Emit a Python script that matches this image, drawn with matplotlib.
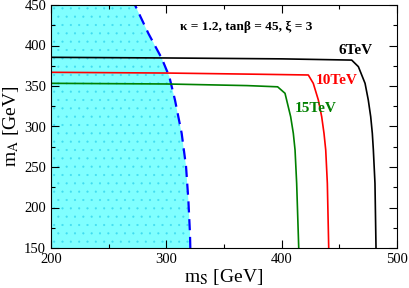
import matplotlib
matplotlib.use("Agg")
import matplotlib.pyplot as plt
from matplotlib.ticker import MultipleLocator

# excluded region boundary (blue dashed)
bound_ms = [320.8, 320.5, 319.1, 317.1, 313.3, 307.5, 302.6, 296.0, 284.4, 272.8]
bound_ma = [150, 168.2, 209.3, 250.4, 291.6, 332.7, 361.5, 384.2, 415, 450]

# contours for different energies
ms_6 = [200, 300, 400, 460.7, 466.5, 472.3, 475.1, 477.2, 478.6, 479.5, 480.9, 481.8]
ma_6 = [385.4, 384.6, 383.5, 382, 373.9, 353.3, 332.7, 312.1, 291.6, 271, 229.9, 150]
ms_10 = [200, 300, 380, 423.1, 427.4, 431.8, 434.7, 436.7, 438.2, 439.6, 440.8]
ma_10 = [366.9, 366, 364.5, 363.6, 353.3, 332.7, 312.1, 291.6, 271, 229.9, 150]
ms_15 = [200, 300, 370, 396.5, 402.9, 407.8, 410.1, 411.6, 413.0, 414.8]
ma_15 = [353.3, 352.5, 350.5, 349, 341, 312.1, 291.6, 271, 229.9, 150]

plt.rcParams['font.family'] = ['Liberation Serif', 'DejaVu Serif']
plt.rcParams['mathtext.fontset'] = 'stix'
plt.rcParams['hatch.linewidth'] = 0.3
plt.rcParams['hatch.color'] = '#40dcf0'

fig = plt.figure(figsize=(4.09, 2.88), dpi=100)
ax = fig.add_axes([51/409, 1 - 248/288, 346/409, 243/288])

ax.fill_betweenx(bound_ma, 200, bound_ms, facecolor='#80ffff', edgecolor='none', hatch='..', lw=0)
ax.plot(bound_ms, bound_ma, color='#0000ff', lw=1.6, ls=(0, (5, 3)))

ax.plot(ms_6, ma_6, color='black', lw=1.2)
ax.plot(ms_10, ma_10, color='red', lw=1.2)
ax.plot(ms_15, ma_15, color='#008000', lw=1.2)

ax.text(464.5, 393.6, '6TeV', color='black', fontsize=11, fontweight='bold', ha='center', va='center')
ax.text(447.7, 357.4, '10TeV', color='red', fontsize=11, fontweight='bold', ha='center', va='center')
ax.text(429.3, 322.8, '15TeV', color='#008000', fontsize=11, fontweight='bold', ha='center', va='center')
ax.text(369, 423, r'κ = 1.2, tanβ = 45, ξ = 3', color='black', fontsize=9.6,
        fontweight='bold', ha='center', va='center')

ax.set_xlim(200, 500)
ax.set_ylim(150, 450)
ax.xaxis.set_major_locator(MultipleLocator(100))
ax.xaxis.set_minor_locator(MultipleLocator(50))
ax.yaxis.set_major_locator(MultipleLocator(50))
ax.yaxis.set_minor_locator(MultipleLocator(25))
ax.tick_params(which='both', direction='in', top=True, right=True, labelsize=10.5)
ax.tick_params(which='major', length=6, width=0.8)
ax.tick_params(which='minor', length=3, width=0.8)
ax.set_xlabel(r'm$_\mathrm{S}$ [GeV]', fontsize=14, labelpad=1)
ax.set_ylabel(r'm$_\mathrm{A}$ [GeV]', fontsize=14, labelpad=2)

fig.savefig('out.png', dpi=100)
